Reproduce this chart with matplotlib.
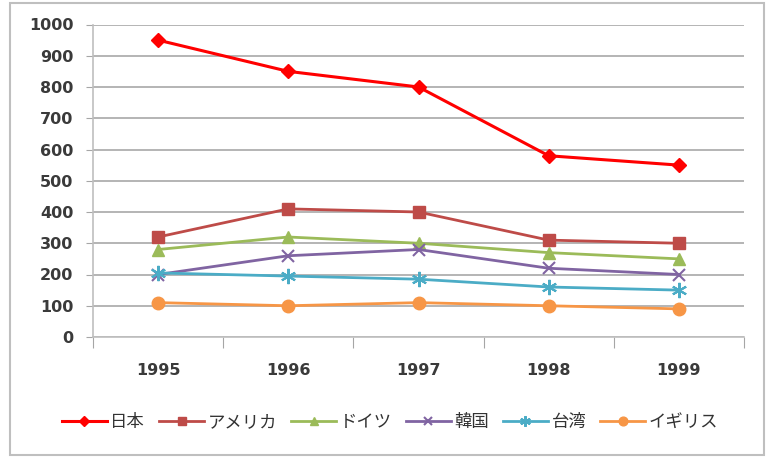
"""
Line chart: yearly values by country (1995-1999), Excel-style look.
"""

import matplotlib
matplotlib.use("Agg")
import matplotlib.pyplot as plt
from matplotlib.patches import Rectangle

plt.rcParams['font.family'] = ['Noto Sans CJK JP', 'DejaVu Sans']

# ===== data =====
years = ["1995", "1996", "1997", "1998", "1999"]
japan = [950, 850, 800, 580, 550]
america = [320, 410, 400, 310, 300]
germany = [280, 320, 300, 270, 250]
korea = [200, 260, 280, 220, 200]
taiwan = [205, 195, 185, 160, 150]
uk = [110, 100, 110, 100, 90]

series_names = ["日本", "アメリカ", "ドイツ", "韓国", "台湾", "イギリス"]
series_values = [japan, america, germany, korea, taiwan, uk]

# style per series: colour, marker, marker size, line width
styles = [
    ("#FF0000", "D", 7, 2.2),
    ("#BE4B48", "s", 9, 2.0),
    ("#9BBB59", "^", 9, 2.0),
    ("#8064A2", "x", 9, 2.0),
    ("#4BACC6", (6, 2, 0), 11, 2.0),
    ("#F79646", "o", 9, 2.0),
]

W, H = 769, 457
fig = plt.figure(figsize=(W / 100, H / 100), dpi=100)

# outer chart frame
fig.patches.append(Rectangle((10 / W, 2 / H), 754 / W, 452 / H,
                             transform=fig.transFigure, fill=False,
                             edgecolor="#BFBFBF", lw=1.5))

ax = fig.add_axes([93 / W, 1 - 337 / H, (744 - 93) / W, (337 - 24.5) / H])

x = list(range(len(years)))
for name, vals, (col, mk, ms, lw) in zip(series_names, series_values, styles):
    ax.plot(x, vals, color=col, marker=mk, markersize=ms, lw=lw,
            markeredgewidth=1.5 if mk in ("x", (6, 2, 0)) else 1,
            markeredgecolor=col, label=name, zorder=3)

ax.set_xlim(-0.5, len(years) - 0.5)
ax.set_ylim(0, 1000)
ax.set_yticks(range(0, 1001, 100))

# category boundaries as major ticks, labels on minor ticks
ax.set_xticks([i - 0.5 for i in range(len(years) + 1)])
ax.set_xticklabels([])
ax.set_xticks(x, minor=True)
ax.set_xticklabels(years, minor=True)
ax.tick_params(axis="x", which="major", length=8, color="#A6A6A6", direction="out")
ax.tick_params(axis="x", which="minor", length=0, pad=19)
ax.tick_params(axis="y", length=5, color="#A6A6A6", pad=9)

for lab in ax.get_xticklabels(minor=True) + ax.get_yticklabels():
    lab.set_fontfamily("DejaVu Sans")
    lab.set_fontweight("bold")
    lab.set_fontsize(11.5)
    lab.set_color("#3A3A3A")

ax.grid(axis="y", color="#A8A8A8", lw=1.2)
ax.set_axisbelow(True)
for side in ("top", "right"):
    ax.spines[side].set_visible(False)
for side in ("left", "bottom"):
    ax.spines[side].set_color("#BFBFBF")
    ax.spines[side].set_linewidth(1.2)

leg = fig.legend(loc="center", bbox_to_anchor=(390 / W, 1 - 422 / H), ncol=6,
                 frameon=False, fontsize=12.5, handlelength=2.6, markerscale=0.7,
                 handletextpad=0.2, columnspacing=0.8, borderaxespad=0)
for t in leg.get_texts():
    t.set_color("#333333")

fig.savefig("out.png", dpi=100)
